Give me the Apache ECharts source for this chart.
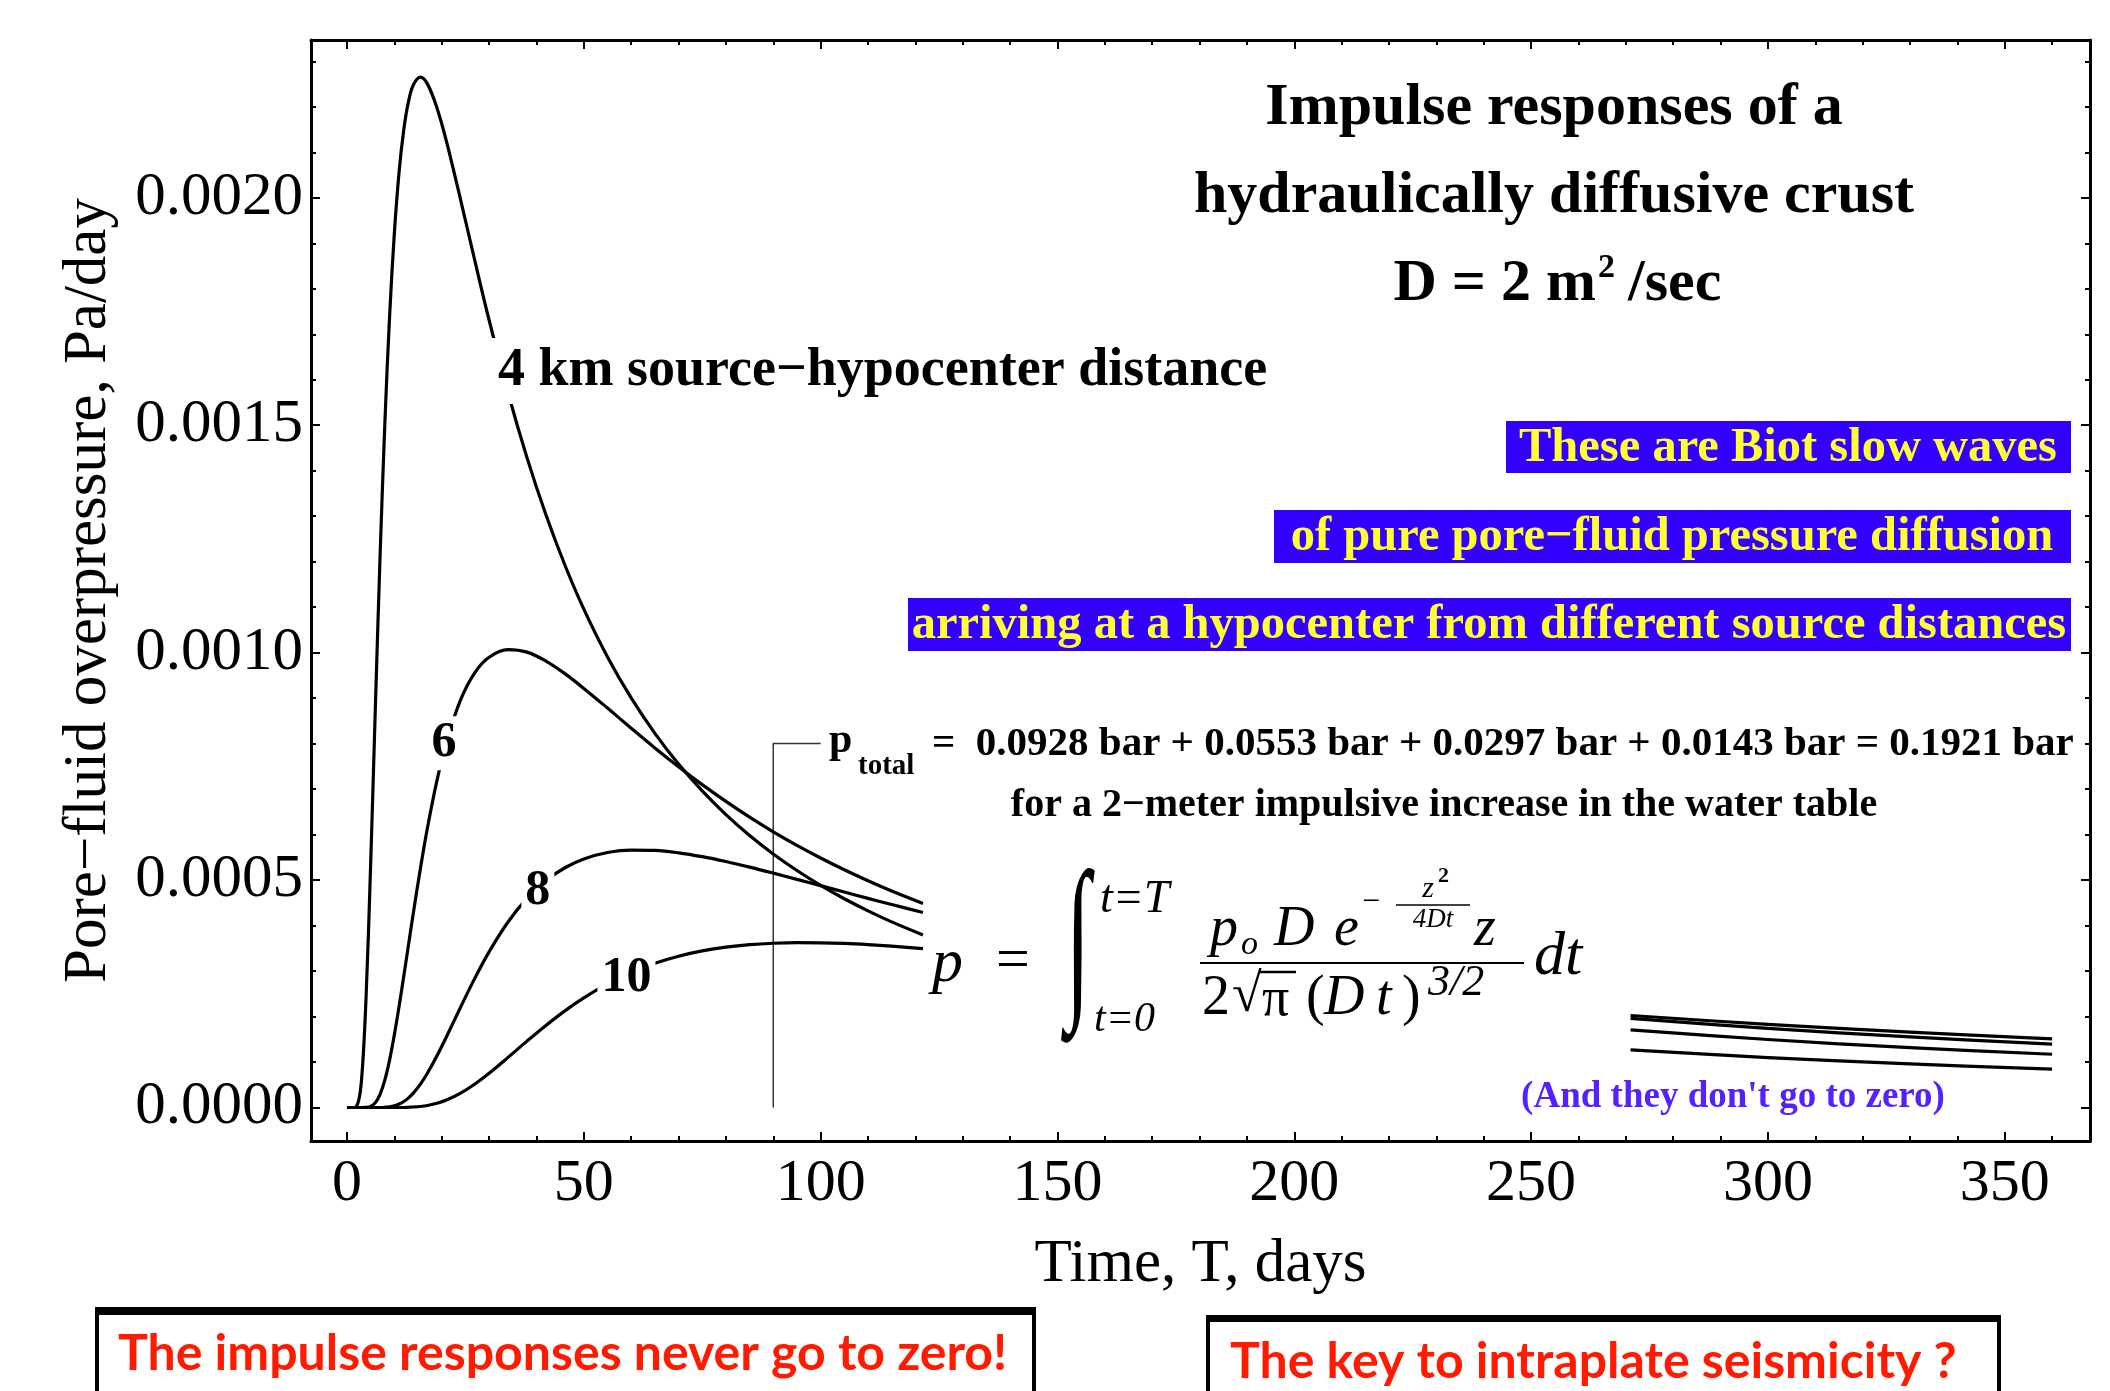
<!DOCTYPE html>
<html><head><meta charset="utf-8">
<script src="https://cdn.jsdelivr.net/npm/echarts@6/dist/echarts.min.js"></script>
<style>html,body{margin:0;padding:0;background:#fff}#c{width:2110px;height:1391px}</style>
</head><body><div id="c"></div>
<script>
// ---- data (time in days, pressure in Pa/day) ----
const times = [0,1,2,3,4,5,6,7,8,9,10,11,12,13,14,15.5,17,19,21,24,27,30,34,38,42,46,50,55,60,65,70,75,80,85,90,95,100,105,110,115,121.6,200,271,300,330,360];
const curve4km = [0,0,0.0000021,0.0000528,0.0002358,0.0005368,0.0008837,0.0012173,0.0015061,0.0017411,0.0019225,0.0020571,0.0021509,0.0022126,0.0022481,0.0022654,0.0022500,0.0021977,0.0021242,0.0019951,0.0018612,0.0017314,0.0015715,0.0014288,0.0013031,0.0011927,0.0010957,0.0009906,0.0009004,0.0008226,0.0007550,0.0006960,0.0006440,0.0005982,0.0005574,0.0005210,0.0004883,0.0004589,0.0004323,0.0004081,0.0003794,null,0.0001267,0.0001097,0.0000957,0.0000845];
const curve6km = [0,0,0,0,0.0000003,0.0000025,0.0000107,0.0000293,0.0000608,0.0001048,0.0001597,0.0002223,0.0002895,0.0003585,0.0004271,0.0005256,0.0006155,0.0007190,0.0008034,0.0008967,0.0009562,0.0009900,0.0010066,0.0010011,0.0009815,0.0009539,0.0009214,0.0008781,0.0008339,0.0007906,0.0007492,0.0007098,0.0006729,0.0006384,0.0006062,0.0005763,0.0005485,0.0005226,0.0004985,0.0004760,0.0004487,null,0.0001708,0.0001494,0.0001315,0.0001170];
const curve8km = [0,0,0,0,0,0,0,0,0.0000005,0.0000015,0.0000037,0.0000075,0.0000132,0.0000212,0.0000315,0.0000513,0.0000757,0.0001137,0.0001556,0.0002210,0.0002844,0.0003422,0.0004077,0.0004596,0.0004988,0.0005271,0.0005465,0.0005606,0.0005660,0.0005652,0.0005599,0.0005514,0.0005407,0.0005285,0.0005153,0.0005016,0.0004877,0.0004737,0.0004598,0.0004462,0.0004287,null,0.0001961,0.0001740,0.0001551,0.0001394];
const curve10km = [0,0,0,0,0,0,0,0,0,0,0,0,0,0.0000005,0.0000010,0.0000022,0.0000044,0.0000092,0.0000163,0.0000315,0.0000516,0.0000753,0.0001101,0.0001459,0.0001804,0.0002124,0.0002410,0.0002718,0.0002970,0.0003170,0.0003326,0.0003442,0.0003525,0.0003580,0.0003611,0.0003624,0.0003621,0.0003606,0.0003580,0.0003546,0.0003492,null,0.0002022,0.0001828,0.0001656,0.0001507];
const bracketT = [90, 90, 100];
const bracketP = [0, 0.0008, 0.0008];
const xMajorTicks = [0,50,100,150,200,250,300,350];
const xMinorTicks = [10,20,30,40,60,70,80,90,110,120,130,140,160,170,180,190,210,220,230,240,260,270,280,290,310,320,330,340,360];
const yMajorTicks = [0,0.0005,0.001,0.0015,0.002];
const yMinorTicks = [0.0001,0.0002,0.0003,0.0004,0.0006,0.0007,0.0008,0.0009,0.0011,0.0012,0.0013,0.0014,0.0016,0.0017,0.0018,0.0019,0.0021,0.0022,0.0023];
const curveLabelText = ['4 km source\u2212hypocenter distance', '6', '8', '10'];
const curveLabelT = [30.5, 20.5, 40.3, 59];
const curveLabelP = [0.001619, 0.000801, 0.000476, 0.000285];

const xMin = -7.6, xMax = 368;
const yMin = -0.0000737, yMax = 0.002347;
const SERIF = '"Liberation Serif", "Times New Roman", serif';

function xAx(position, ticks, len, main, labels) {
  return {
    type: 'value', position, min: xMin, max: xMax,
    axisLine: { show: main, onZero: false, lineStyle: { color: '#000', width: 3 } },
    axisTick: { show: true, inside: true, length: len, customValues: ticks, lineStyle: { color: '#000', width: 2 } },
    axisLabel: labels ? { show: true, customValues: xMajorTicks, margin: 13, fontFamily: SERIF, fontSize: 60, color: '#000', formatter: v => String(v) } : { show: false },
    splitLine: { show: false }
  };
}
function yAx(position, ticks, len, main, labels) {
  return {
    type: 'value', position, min: yMin, max: yMax,
    axisLine: { show: main, onZero: false, lineStyle: { color: '#000', width: 3 } },
    axisTick: { show: true, inside: true, length: len, customValues: ticks, lineStyle: { color: '#000', width: 2 } },
    axisLabel: labels ? { show: true, customValues: yMajorTicks, margin: 8, fontFamily: SERIF, fontSize: 61, color: '#000', formatter: v => v.toFixed(4) } : { show: false },
    splitLine: { show: false }
  };
}

const xAxes = [xAx('bottom', xMajorTicks, 9, true, true), xAx('bottom', xMinorTicks, 5, false, false), xAx('top', xMajorTicks, 9, true, false), xAx('top', xMinorTicks, 5, false, false)];
xAxes[0].name = 'Time, T, days';
xAxes[0].nameLocation = 'middle';
xAxes[0].nameGap = 93;
xAxes[0].nameTextStyle = { fontFamily: SERIF, fontSize: 61, color: '#000' };
const yAxes = [yAx('left', yMajorTicks, 9, true, true), yAx('left', yMinorTicks, 5, false, false), yAx('right', yMajorTicks, 9, true, false), yAx('right', yMinorTicks, 5, false, false)];
yAxes[0].name = 'Pore\u2212fluid overpressure, Pa/day';
yAxes[0].nameLocation = 'middle';
yAxes[0].nameGap = 192;
yAxes[0].nameRotate = 90;
yAxes[0].nameTextStyle = { fontFamily: SERIF, fontSize: 61, color: '#000' };

function curveSeries(name, vals, li) {
  const isLong = li === 0;
  return {
    name, type: 'line', symbol: 'none', smooth: 0.35, connectNulls: false,
    lineStyle: { color: '#000', width: 3.2, join: 'round' }, z: 3, silent: true,
    data: times.map((t, i) => [t, vals[i]]),
    markPoint: {
      symbol: 'rect', symbolSize: 1, silent: true, itemStyle: { color: 'rgba(0,0,0,0)' },
      label: {
        show: true, position: isLong ? 'right' : 'inside', distance: 0,
        formatter: p => p.name,
        fontFamily: SERIF, fontWeight: 'bold', fontSize: isLong ? 54 : 50, color: '#000',
        backgroundColor: '#fff', padding: isLong ? [6, 6] : [2, 4]
      },
      data: [{ name: curveLabelText[li], coord: [curveLabelT[li], curveLabelP[li]] }]
    }
  };
}

function txt(text, x, y, font, opts) {
  opts = opts || {};
  const align = opts.align || 'left';
  const va = opts.va || 'middle';
  const el = { type: 'text', x, y, z: 50, silent: true,
    style: { text, font, fill: opts.fill || '#000', align, textAlign: align, verticalAlign: va, textVerticalAlign: va } };
  if (opts.sx) { el.scaleX = opts.sx; }
  if (opts.sy) { el.scaleY = opts.sy; }
  return el;
}
function hline(x1, x2, y, w, color) {
  return { type: 'line', z: 50, silent: true, shape: { x1, y1: y, x2, y2: y }, style: { stroke: color || '#000', lineWidth: w } };
}
function box(x, y, w, h, fill) {
  return { type: 'rect', z: 40, silent: true, shape: { x, y, width: w, height: h }, style: { fill } };
}

const B = 'bold ';
const graphics = [
  // title
  txt('Impulse responses of a', 1554, 108, B + '60px ' + SERIF, { align: 'center' }),
  txt('hydraulically diffusive crust', 1554, 196, B + '60px ' + SERIF, { align: 'center' }),
  txt('D = 2 m', 1596, 284, B + '60px ' + SERIF, { align: 'right' }),
  txt('2', 1598, 268, B + '34px ' + SERIF),
  txt('/sec', 1628, 284, B + '60px ' + SERIF),
  // blue boxes
  box(1506, 421, 565, 52, '#3300ff'),
  txt('These are Biot slow waves', 1788, 448, B + '48.5px ' + SERIF, { align: 'center', fill: '#ffff33' }),
  box(1274, 510, 797, 53, '#3300ff'),
  txt('of pure pore\u2212fluid pressure diffusion', 1672, 537, B + '48.5px ' + SERIF, { align: 'center', fill: '#ffff33' }),
  box(908, 598, 1163, 53, '#3300ff'),
  txt('arriving at a hypocenter from different source distances', 1489, 625, B + '48.5px ' + SERIF, { align: 'center', fill: '#ffff33' }),
  // p total
  txt('p', 829, 741, B + '42px ' + SERIF),
  txt('total', 858, 767, B + '29px ' + SERIF),
  txt('=  0.0928 bar + 0.0553 bar + 0.0297 bar + 0.0143 bar = 0.1921 bar', 932, 744, B + '41px ' + SERIF),
  txt('for a 2\u2212meter impulsive increase in the water table', 1444, 806, B + '40px ' + SERIF, { align: 'center' }),
  // formula
  txt('p', 932, 965, 'italic 62px ' + SERIF),
  txt('=', 1013, 962, '60px ' + SERIF, { align: 'center' }),
  txt('\u222B', 1078, 948, '178px ' + SERIF, { align: 'center', sx: 0.5 }),
  txt('t=T', 1100, 900, 'italic 46px ' + SERIF),
  txt('t=0', 1094, 1020, 'italic 42px ' + SERIF),
  txt('p', 1210, 930, 'italic 56px ' + SERIF),
  txt('o', 1241, 945, 'italic 34px ' + SERIF),
  txt('D', 1274, 930, 'italic 56px ' + SERIF),
  txt('e', 1334, 930, 'italic 56px ' + SERIF),
  txt('\u2212', 1362, 903, '32px ' + SERIF),
  txt('z', 1428, 889, 'italic 30px ' + SERIF, { align: 'center' }),
  txt('2', 1438, 876, B + '22px ' + SERIF),
  hline(1396, 1470, 905, 1.5),
  txt('4Dt', 1433, 920, 'italic 27px ' + SERIF, { align: 'center' }),
  txt('z', 1474, 930, 'italic 56px ' + SERIF),
  hline(1200, 1524, 963, 2),
  txt('2', 1202, 999, '56px ' + SERIF),
  txt('\u221A', 1232, 997, '54px ' + SERIF),
  hline(1259, 1296, 972, 2.5),
  txt('\u03C0', 1262, 1001, '54px ' + SERIF),
  txt('(', 1306, 999, '56px ' + SERIF),
  txt('D', 1324, 999, 'italic 56px ' + SERIF),
  txt('t', 1376, 999, 'italic 56px ' + SERIF),
  txt(')', 1402, 999, '56px ' + SERIF),
  txt('3/2', 1428, 983, 'italic 44px ' + SERIF),
  txt('dt', 1534, 958, 'italic 62px ' + SERIF),
  // note
  txt('(And they don\'t go to zero)', 1733, 1097, B + '37px ' + SERIF, { align: 'center', fill: '#5522ff' }),
  // bottom boxes
  { type: 'rect', z: 40, silent: true, shape: { x: 97, y: 1311, width: 937, height: 120 }, style: { fill: '#fff', stroke: '#000', lineWidth: 4 } },
  box(95, 1307, 941, 8, '#000'),
  txt('The impulse responses never go to zero!', 118, 1354, B + '50px Lato, sans-serif', { fill: '#ff1a00' }),
  { type: 'rect', z: 40, silent: true, shape: { x: 1208, y: 1318, width: 791, height: 120 }, style: { fill: '#fff', stroke: '#000', lineWidth: 4 } },
  box(1206, 1315, 795, 7, '#000'),
  txt('The key to intraplate seismicity ?', 1230, 1362, B + '50px Lato, sans-serif', { fill: '#ff1a00' })
];

const chart = echarts.init(document.getElementById('c'), null, { renderer: 'canvas' });
chart.setOption({
  animation: false,
  backgroundColor: '#fff',
  grid: { left: 311, right: 20, top: 40, bottom: 250, containLabel: false },
  xAxis: xAxes,
  yAxis: yAxes,
  series: [
    curveSeries('4 km', curve4km, 0),
    curveSeries('6 km', curve6km, 1),
    curveSeries('8 km', curve8km, 2),
    curveSeries('10 km', curve10km, 3),
    { name: 'bracket', type: 'line', symbol: 'none', silent: true, z: 2,
      lineStyle: { color: '#333', width: 1.5 },
      data: bracketT.map((t, i) => [t, bracketP[i]]) }
  ],
  graphic: graphics
});
</script>
</body></html>
